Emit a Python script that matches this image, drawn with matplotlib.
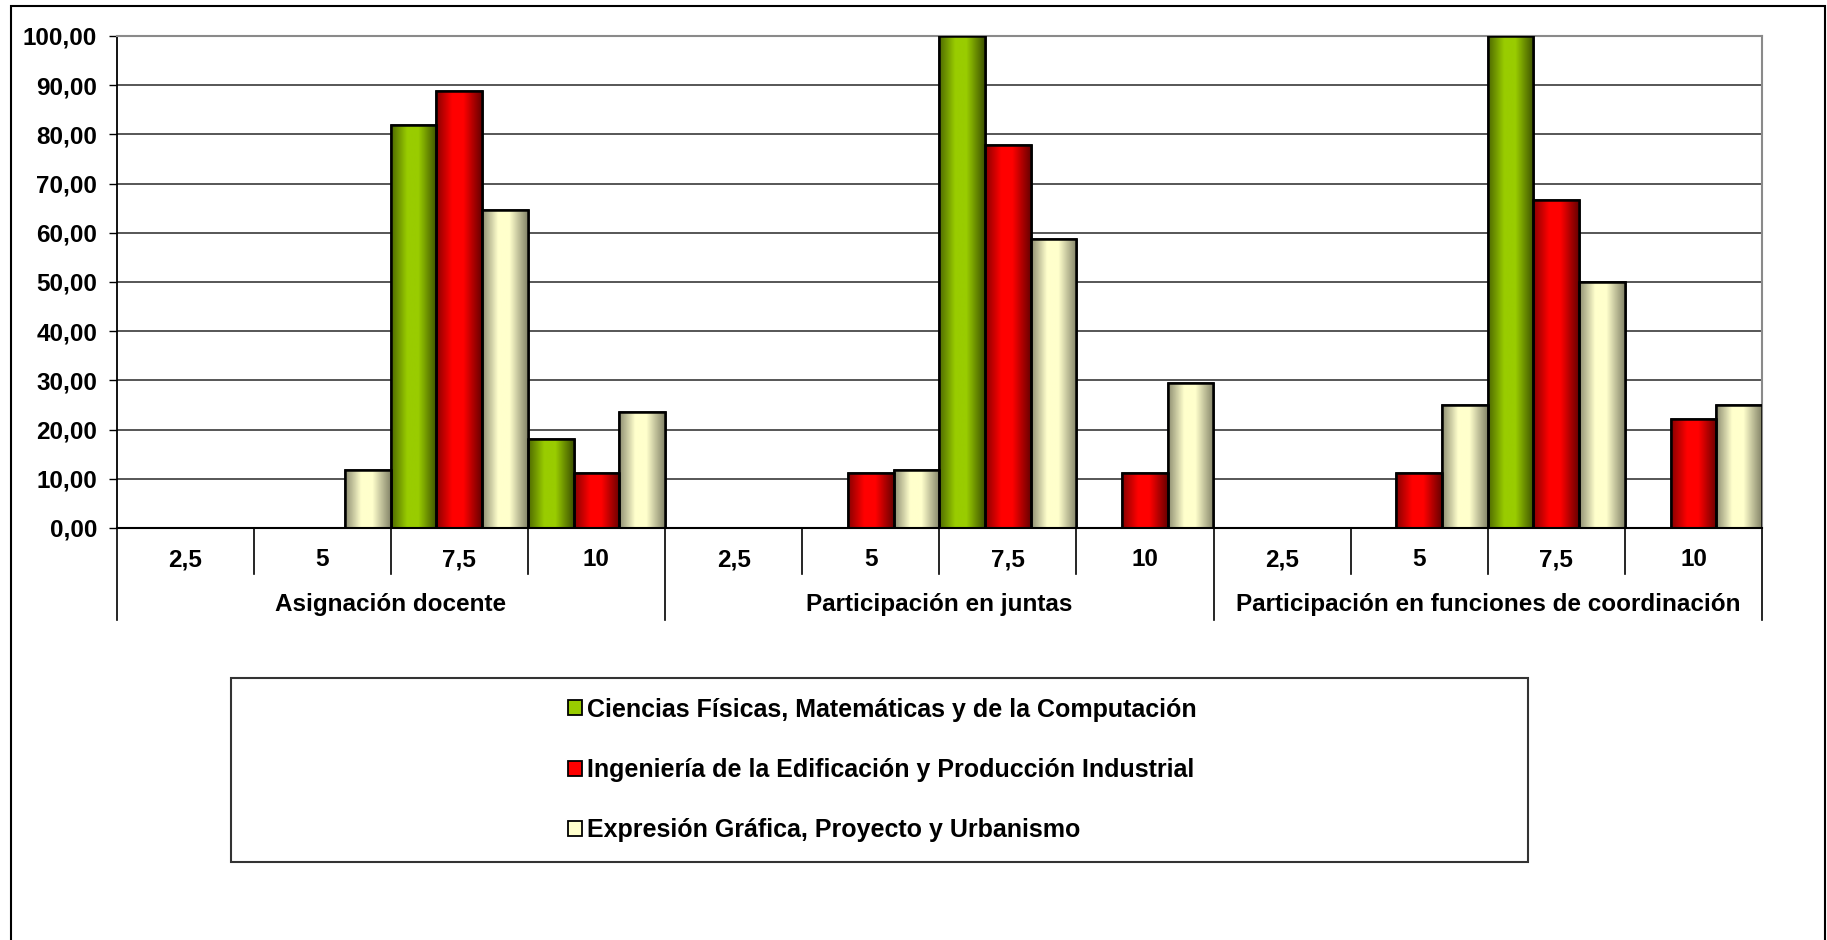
import matplotlib
matplotlib.use("Agg")
import matplotlib.pyplot as plt
import numpy as np
from matplotlib.colors import LinearSegmentedColormap
from matplotlib.patches import Patch, Rectangle
from matplotlib.lines import Line2D

plt.rcParams['font.family'] = ['Liberation Sans', 'DejaVu Sans']
plt.rcParams['font.weight'] = 'bold'

# ---- data ----
groups = ['Asignación docente', 'Participación en juntas',
          'Participación en funciones de coordinación']
scores = ['2,5', '5', '7,5', '10']
series = ['Ciencias Físicas, Matemáticas y de la Computación',
          'Ingeniería de la Edificación y Producción Industrial',
          'Expresión Gráfica, Proyecto y Urbanismo']
ciencias = [0, 0, 81.82, 18.18,
            0, 0, 100.0, 0,
            0, 0, 100.0, 0]
ingenieria = [0, 0, 88.89, 11.11,
              0, 11.11, 77.78, 11.11,
              0, 11.11, 66.67, 22.22]
expresion = [0, 11.76, 64.71, 23.53,
             0, 11.76, 58.82, 29.41,
             0, 25.0, 50.0, 25.0]
values = [ciencias, ingenieria, expresion]

base_cols = ['#99CC00', '#FF0000', '#FFFFCC']
dark_cols = [('#4F6A00', '#3E5300'), ('#8A0000', '#6A0000'), ('#8F8F72', '#85856A')]

FS = 17.5

# ---- figure ----
W, H = 1827, 940
fig = plt.figure(figsize=(W / 100, H / 100), dpi=100)
ax = fig.add_axes([116.5 / W, 1 - 528 / H, (1762 - 116.5) / W, 492 / H])

n = len(groups) * len(scores)
x = np.arange(n)
bw = 1 / 3.

grad = np.linspace(0, 1, 64).reshape(1, -1)
for k, vals in enumerate(values):
    cmap = LinearSegmentedColormap.from_list(
        'g%d' % k, [(0, dark_cols[k][0]), (0.35, base_cols[k]),
                    (0.6, base_cols[k]), (1, dark_cols[k][1])])
    bars = ax.bar(x + (k - 1) * bw, vals, width=bw, color=base_cols[k],
                  edgecolor='black', linewidth=1.8, zorder=3)
    for b, v in zip(bars, vals):
        if v <= 0:
            continue
        x0, y0 = b.get_x(), b.get_y()
        im = ax.imshow(grad, cmap=cmap, aspect='auto', zorder=3.5,
                       extent=[x0, x0 + b.get_width(), y0, y0 + b.get_height()])
        im.set_clip_path(b)
        # redraw outline on top
        ax.add_patch(Rectangle((x0, y0), b.get_width(), b.get_height(),
                               fill=False, edgecolor='black', linewidth=1.8, zorder=4))

ax.set_xlim(-0.5, n - 0.5)
ax.set_ylim(0, 100)
yt = list(range(0, 101, 10))
ax.set_yticks(yt)
ax.set_yticklabels([('%.2f' % v).replace('.', ',') for v in yt], fontsize=FS)
ax.tick_params(axis='y', length=6, width=1, pad=8)
ax.set_xticks([])
ax.yaxis.grid(True, color='#3a3a3a', linewidth=1.2, zorder=0)
ax.set_axisbelow(True)
for s in ['top', 'right']:
    ax.spines[s].set_color('#8a8a8a')
    ax.spines[s].set_linewidth(1.5)
ax.spines['left'].set_linewidth(1.3)
ax.spines['bottom'].set_linewidth(1.5)
ax.spines['bottom'].set_zorder(5)

# multi-level category axis
tr = ax.get_xaxis_transform()
px = 1 / 492.
for i in range(n):
    ax.text(x[i], -32 * px, scores[i % 4], transform=tr, ha='center', va='center',
            fontsize=FS, fontweight='bold')
for i in range(n + 1):
    if i % 4 == 0:
        y1 = -92 * px
    else:
        y1 = -46 * px
    ax.add_line(Line2D([i - 0.5, i - 0.5], [0, y1], transform=tr, color='black',
                       linewidth=1.2, clip_on=False))
for g, name in enumerate(groups):
    ax.text(g * 4 + 1.5, -77 * px, name, transform=tr, ha='center', va='center',
            fontsize=FS, fontweight='bold')

# legend with separate frame
fig.patches.append(Rectangle((231 / W, 1 - 862 / H), (1528 - 231) / W, (862 - 678) / H,
                             transform=fig.transFigure, fill=False,
                             edgecolor='#333333', linewidth=1.5))
handles = [Patch(facecolor=c, edgecolor='black', linewidth=1.3) for c in base_cols]
fig.legend(handles, series, loc='center', bbox_to_anchor=(882 / W, 1 - 770 / H),
           frameon=False, handlelength=0.55, handleheight=0.55,
           handletextpad=0.2, labelspacing=1.45, prop={'weight': 'bold', 'size': FS + 0.5})

# outer chart border
fig.patches.append(Rectangle((11 / W, -0.02), (1825 - 11) / W, 1.02 - 6 / H,
                             transform=fig.transFigure, fill=False,
                             edgecolor='black', linewidth=1.5))

fig.savefig('out.png', dpi=100, facecolor='white')
